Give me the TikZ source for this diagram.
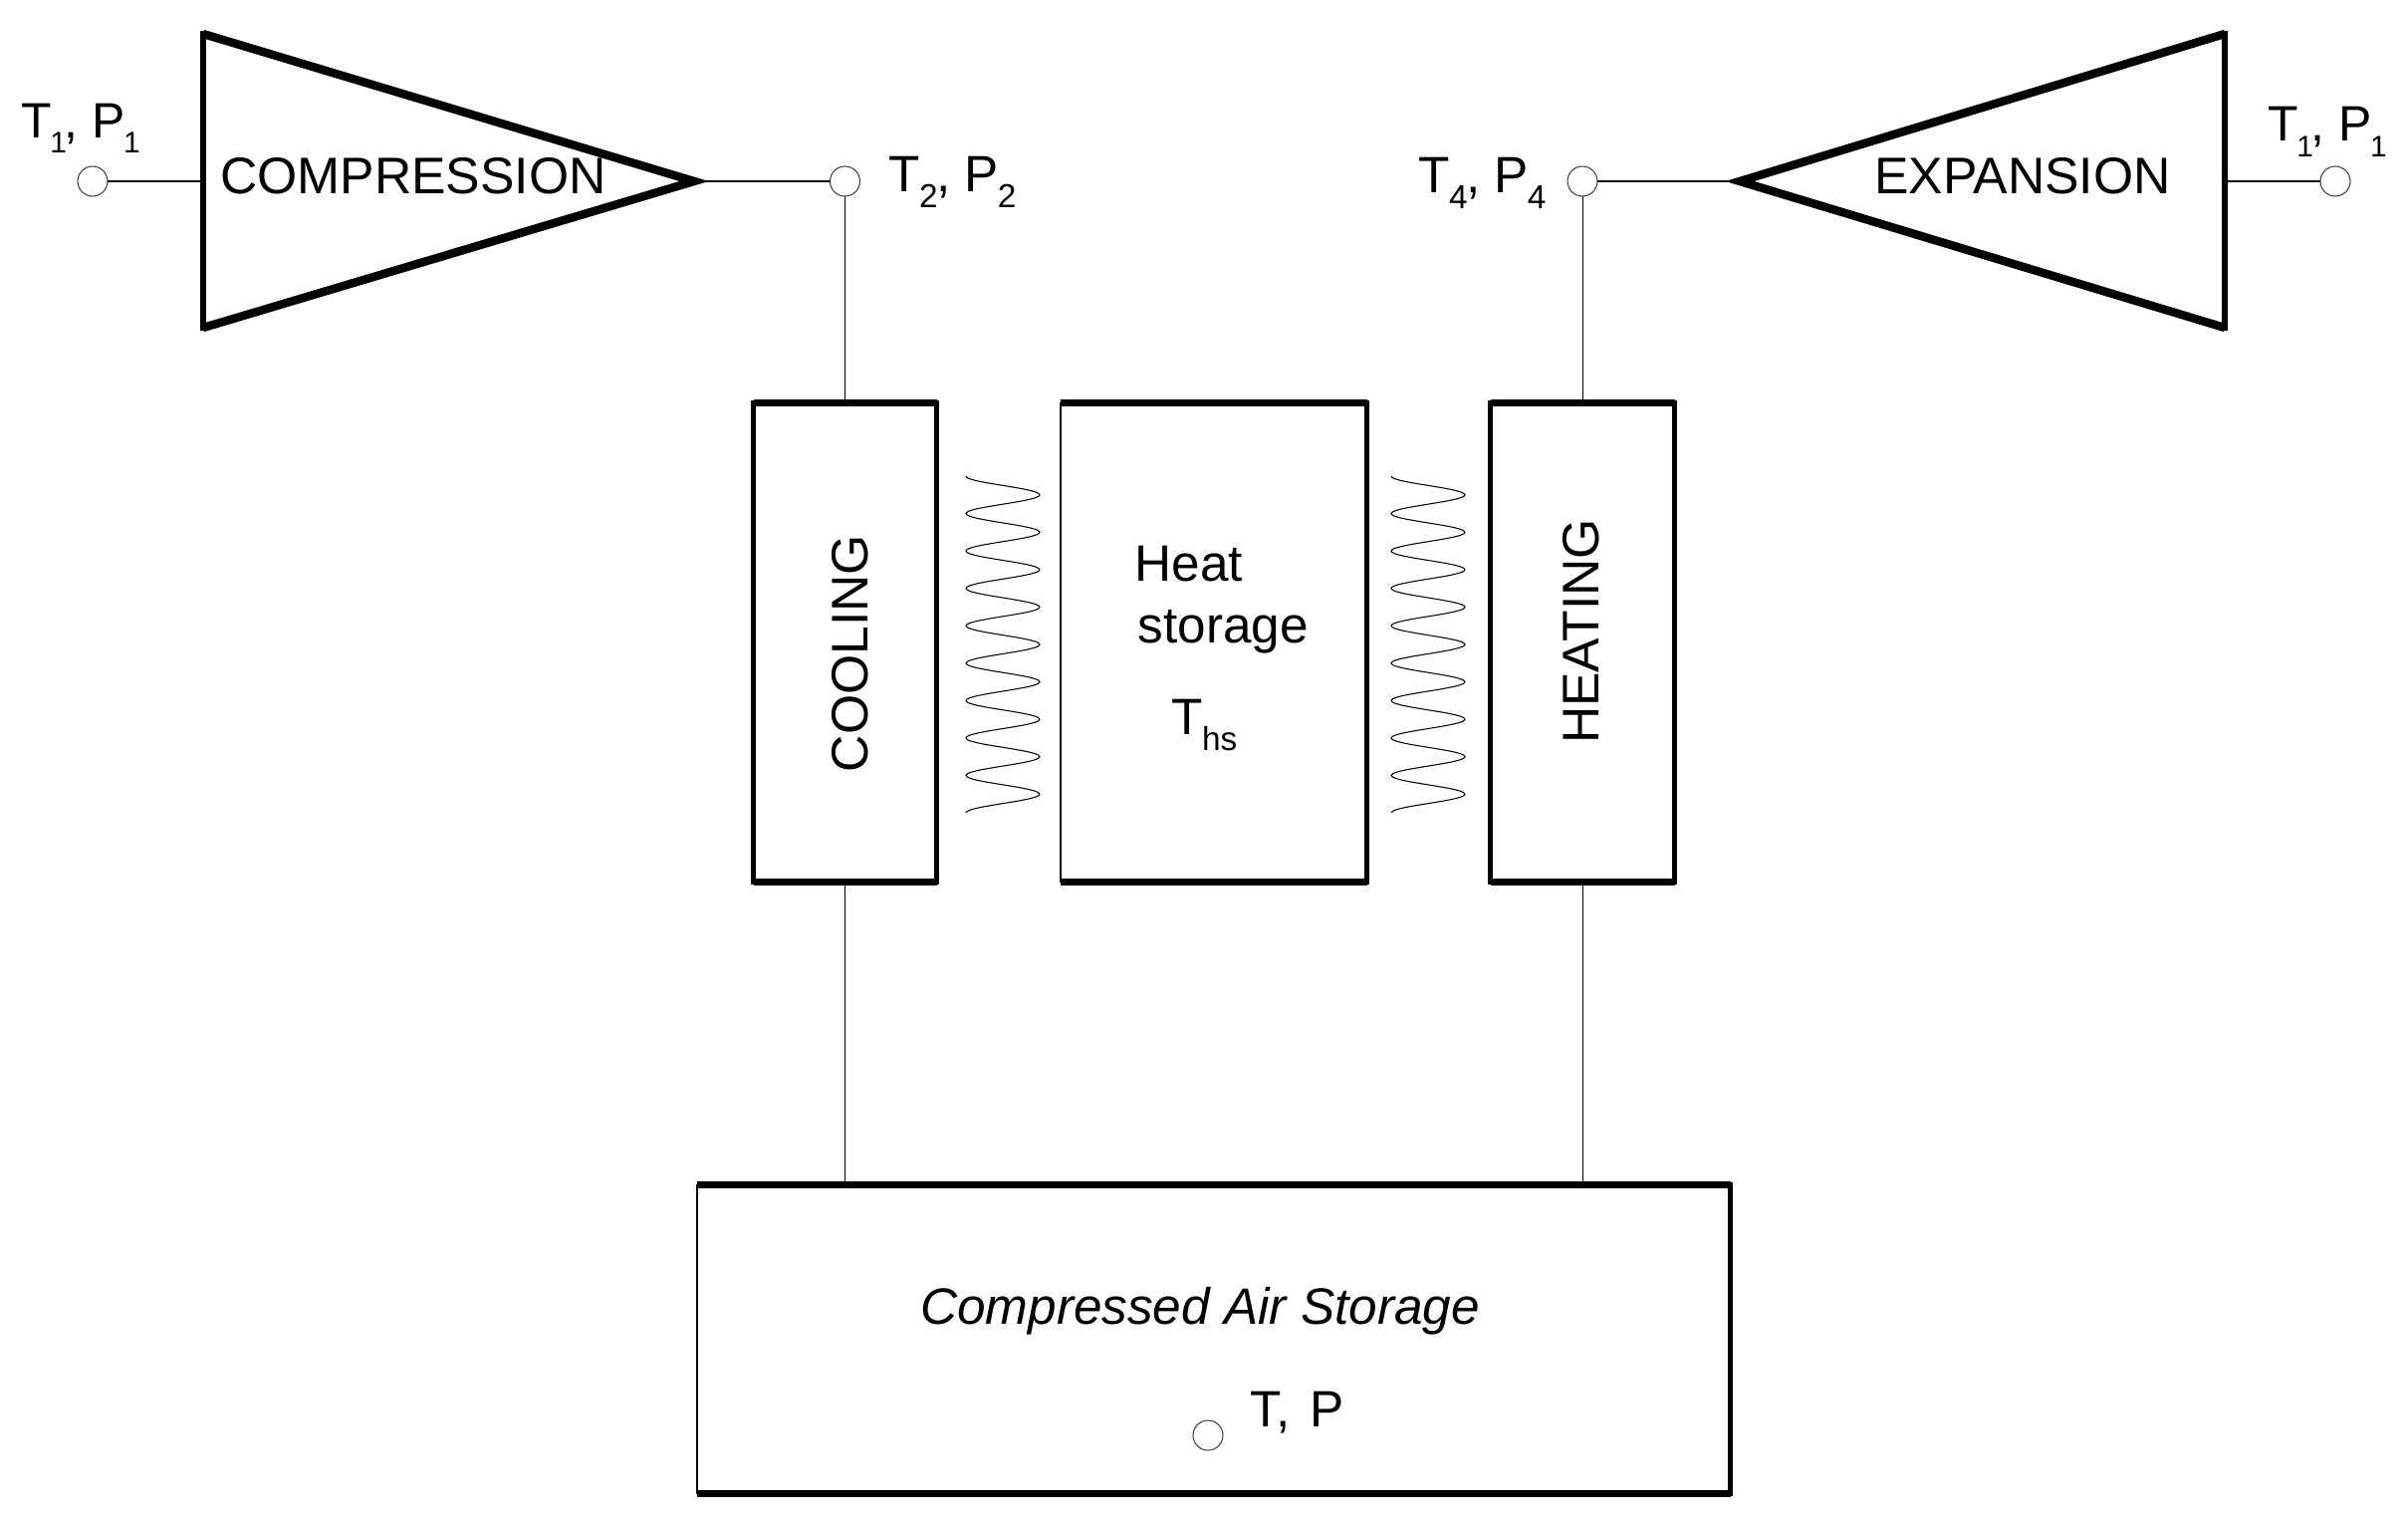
\documentclass[tikz,border=0pt]{standalone}
\usepackage{fontspec}
\setmainfont{Liberation Sans}
\usetikzlibrary{positioning}
\newcommand{\sbs}[1]{\kern-0.3pt\raisebox{-0.6ex}{\fontsize{9.5}{9.5}\selectfont #1}\kern-0.4pt}
\newcommand{\sbt}[1]{\kern-0.5pt\raisebox{-0.6ex}{\fontsize{8.5}{8.5}\selectfont #1}\kern-0.6pt}

\begin{document}
\begin{tikzpicture}[
      txt/.style={anchor=base west, inner sep=0pt, font=\fontsize{14.6}{14.6}\selectfont},
      lbl/.style={inner sep=0pt, font=\fontsize{14.7}{14.7}\selectfont},
      small/.style={anchor=base west, inner sep=0pt, font=\fontsize{14.2}{14.2}\selectfont},
      bx/.style={draw, line width=0.3pt, inner sep=0pt, outer sep=0pt},
      hbar/.style={line width=2.2pt},
      vbar/.style={line width=1.6pt, line cap=rect},
      port/.style={draw=black!75, line width=0.3pt, circle, minimum size=3mm, inner sep=0pt, outer sep=0pt},
      wire/.style={line width=0.4pt},
      riser/.style={line width=0.25pt},
      coil/.style={line width=0.3pt},
      turbo/.style={line width=2.4pt, line join=miter, miter limit=20}]
    \useasboundingbox (0,0) rectangle (24.18,-15.27);

    % turbomachines
    \coordinate (compTop) at (2.04,-0.34);
    \coordinate (compBot) at (2.04,-3.29);
    \coordinate (compTip) at (6.97,-1.82);
    \coordinate (compIn) at (2.04,-1.82);
    \coordinate (expTop) at (22.34,-0.34);
    \coordinate (expBot) at (22.34,-3.29);
    \coordinate (expTip) at (17.47,-1.82);
    \coordinate (expOut) at (22.34,-1.82);
    \draw[turbo] (compTop) -- (compTip) -- (compBot);
    \draw[vbar] (compTop) -- (compBot);
    \draw[turbo] (expTop) -- (expTip) -- (expBot);
    \draw[vbar] (expTop) -- (expBot);
    \node[lbl] (compLabel) at (4.15,-1.77) {COMPRESSION};
    \node[lbl] (expLabel) at (20.31,-1.77) {EXPANSION};

    % boxes
    \node[bx, minimum width=1.84cm, minimum height=4.81cm] (cooling) at (8.485,-6.45) {};
    \node[bx, minimum width=3.075cm, minimum height=4.81cm] (heat) at (12.1875,-6.45) {};
    \node[bx, minimum width=1.85cm, minimum height=4.81cm] (heating) at (15.89,-6.45) {};
    \node[bx, minimum width=10.375cm, minimum height=3.10cm] (storage) at (12.1875,-13.445) {};
    \foreach \bxname in {cooling, heat, heating, storage} {
      \draw[hbar] (\bxname.north west) -- (\bxname.north east);
      \draw[hbar] (\bxname.south west) -- (\bxname.south east);
      \draw[vbar] (\bxname.north east) -- (\bxname.south east);
    }
    \draw[vbar] (cooling.north west) -- (cooling.south west);
    \draw[vbar] (heating.north west) -- (heating.south west);

    \node[lbl, rotate=90] (coolLabel) at (8.535,-6.56) {COOLING};
    \node[lbl, rotate=90] (heatLabel) at (15.88,-6.34) {HEATING};
    \node[txt] (heatA) at (11.39,-5.83) {Heat};
    \node[txt] (heatB) at (11.42,-6.45) {storage};
    \node[txt] (heatC) at (11.76,-7.37) {T\sbs{hs}};
    \node[txt] (storeLabel) at (9.235,-13.29) {\itshape Compressed Air Storage};

    % ports
    \node[port] (p1) at (0.93,-1.82) {};
    \node[port] (p2) at (8.485,-1.82) {};
    \node[port] (p4) at (15.89,-1.82) {};
    \node[port] (p5) at (23.45,-1.82) {};
    \node[port] (p0) at (12.13,-14.41) {};
    \node[small] (t1) at (0.21,-1.38) {T\sbt{1}, P\sbt{1}};
    \node[txt] (t2) at (8.92,-1.92) {T\sbs{2}, P\sbs{2}};
    \node[txt] (t4) at (14.24,-1.93) {T\sbs{4}, P\sbs{4}};
    \node[small] (t5) at (22.77,-1.42) {T\sbt{1}, P\sbt{1}};
    \node[txt] (t0) at (12.55,-14.32) {T,\kern1.5pt{} P};

    % connections
    \draw[wire] (p1) -- (compIn);
    \draw[wire] (compTip) -- (p2);
    \draw[riser] (p2) -- (cooling.north);
    \draw[riser] (cooling.south) -- (cooling.south |- storage.north);
    \draw[wire] (p4) -- (expTip);
    \draw[wire] (expOut) -- (p5);
    \draw[riser] (p4) -- (heating.north);
    \draw[riser] (heating.south) -- (heating.south |- storage.north);

    % heat exchange
    \foreach \wx in {9.70, 13.97} {
      \draw[coil] plot[domain=0:9, samples=217, smooth] ({\wx+0.37*(1-cos(360*\x))}, {-4.78-0.3756*\x});
    }
  \end{tikzpicture}
\end{document}
